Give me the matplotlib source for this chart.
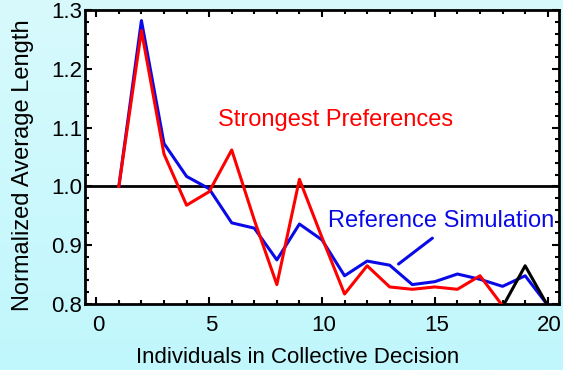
import numpy as np
import matplotlib
matplotlib.use('Agg')
import matplotlib.pyplot as plt
import matplotlib.transforms as mtransforms
from matplotlib.colors import LinearSegmentedColormap
from matplotlib.ticker import MultipleLocator

plt.rcParams['font.family'] = ['Liberation Sans', 'DejaVu Sans']

# group size (number of individuals)
n_ref = list(range(1, 21))
reference = [1.0, 1.282, 1.073, 1.017, 0.996, 0.938, 0.929, 0.875, 0.936, 0.909,
             0.848, 0.873, 0.866, 0.833, 0.838, 0.851, 0.842, 0.830, 0.848, 0.798]

n_strong = list(range(1, 19))
strongest = [1.0, 1.265, 1.055, 0.968, 0.991, 1.062, 0.943, 0.833, 1.012, 0.913,
             0.817, 0.865, 0.829, 0.825, 0.829, 0.825, 0.848, 0.797]

n_tail = [18, 19, 20]
tail = [0.795, 0.865, 0.797]

baseline = 1.0

fig = plt.figure(figsize=(5.63, 3.70), dpi=100)

# light cyan gradient background
bg = fig.add_axes([0, 0, 1, 1], zorder=-10)
cmap = LinearSegmentedColormap.from_list('bg', ['#c0f7fc', '#d8fafd'])
bg.imshow(np.linspace(0, 1, 256).reshape(-1, 1), cmap=cmap, aspect='auto',
          origin='lower', extent=[0, 1, 0, 1])
bg.set_axis_off()

ax = fig.add_axes([85 / 563, 66 / 370, 474 / 563, 294 / 370])
ax.set_facecolor('white')

ax.axhline(baseline, color='black', lw=2, zorder=1)
ax.plot(n_ref, reference, color='#0a0ae6', lw=2.2, zorder=3)
ax.plot(n_strong, strongest, color='#ff0000', lw=2.2, zorder=4)
ax.plot(n_tail, tail, color='black', lw=2.2, zorder=3.5)

ax.text(10.58, 1.103, 'Strongest Preferences', color='#ff0000', fontsize=17,
        ha='center', va='baseline')
ax.text(15.29, 0.9306, 'Reference Simulation', color='#0a0ae6', fontsize=17,
        ha='center', va='baseline')
ax.annotate('', xy=(13.39, 0.868), xytext=(14.89, 0.912),
            arrowprops=dict(arrowstyle='-', color='#0a0ae6', lw=2.2,
                            shrinkA=0, shrinkB=0))

ax.set_xlim(-0.5, 20.5)
ax.set_ylim(0.8, 1.3)
ax.xaxis.set_major_locator(MultipleLocator(5))
ax.xaxis.set_minor_locator(MultipleLocator(1))
ax.yaxis.set_major_locator(MultipleLocator(0.1))
ax.yaxis.set_minor_locator(MultipleLocator(0.02))
ax.tick_params(which='both', direction='in', top=True, right=True, width=1.5)
ax.tick_params(which='major', length=5, labelsize=16)
ax.tick_params(which='minor', length=3)
ax.tick_params(axis='x', pad=8)
ax.tick_params(axis='y', pad=2)
for sp in ax.spines.values():
    sp.set_linewidth(2)

# x tick labels sit a little right of their ticks in the original
shift = mtransforms.ScaledTranslation(2 / 100, 0, fig.dpi_scale_trans)
for lbl in ax.get_xticklabels():
    lbl.set_transform(lbl.get_transform() + shift)

ax.set_xlabel('Individuals in Collective Decision', fontsize=16)
ax.set_ylabel('Normalized Average Length', fontsize=17)
ax.xaxis.set_label_coords(0.449, -0.145)
ax.yaxis.set_label_coords(-0.108, 0.473)

fig.savefig('out.png', dpi=100)
